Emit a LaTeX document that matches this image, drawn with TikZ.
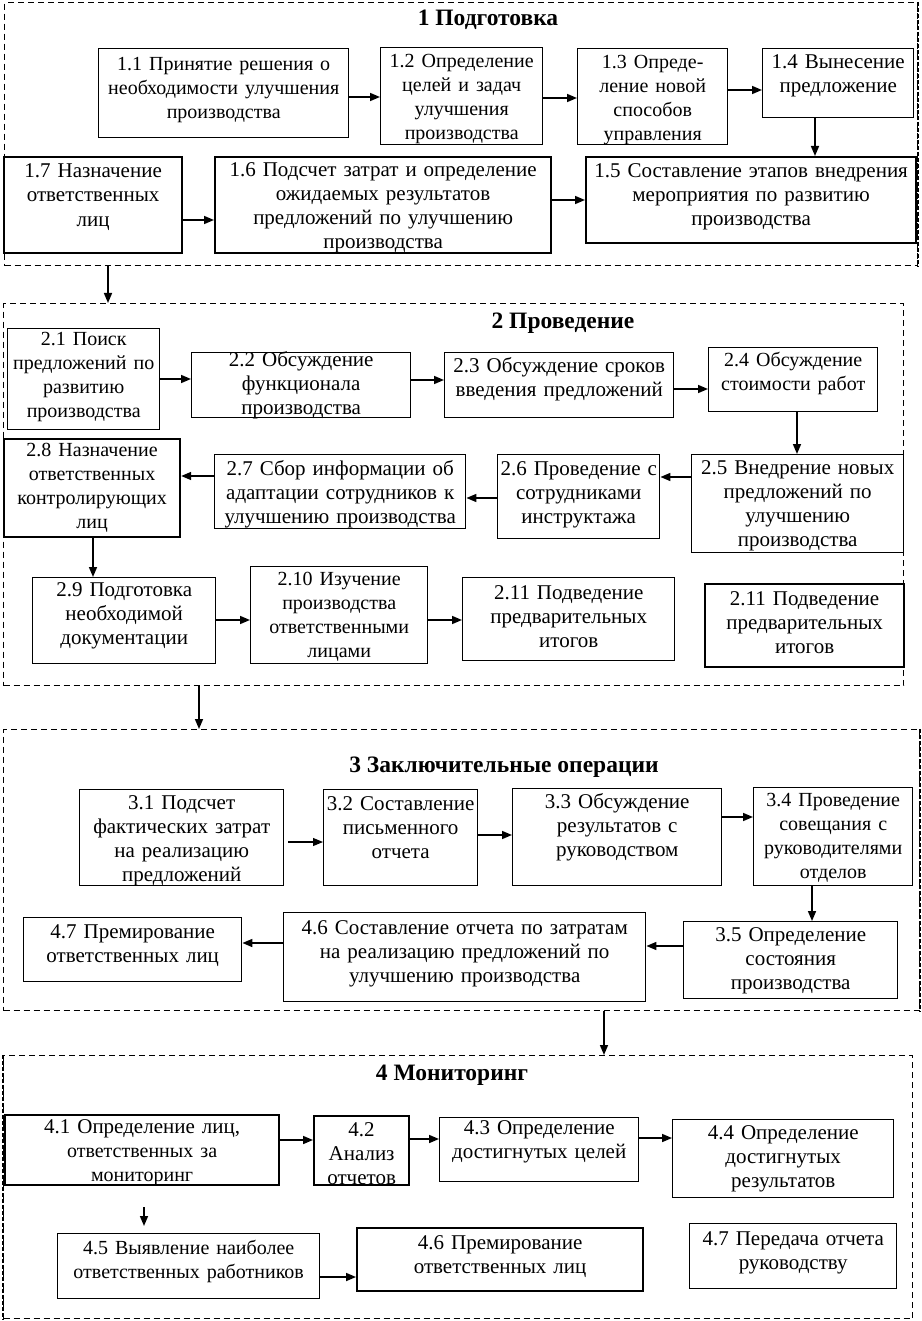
\documentclass[tikz,border=0pt]{standalone}
\usepackage{fontspec}
\setmainfont{Liberation Serif}
\usetikzlibrary{arrows.meta}
\tikzset{
  box/.style={draw, line width=1.4pt, inner sep=0pt},
  thk/.style={line width=2.2pt},
  txt/.style={align=center, inner sep=0pt, font=\fontsize{21}{24}\selectfont},
  arr/.style={line width=1.6pt, -{Triangle[length=10pt,width=8pt]}},
  thinarr/.style={line width=1.1pt, -{Triangle[length=10pt,width=8pt]}},
  frm/.style={draw, dash pattern=on 6pt off 4pt, line width=1.1pt, inner sep=0pt},
  frmthk/.style={dash pattern=on 4pt off 2pt, line width=2pt},
  ttl/.style={font=\fontsize{23.5}{28}\selectfont\bfseries, inner sep=0pt},
}
\newcommand{\sm}{\fontsize{20}{24}\selectfont}
\newcommand{\bx}[8][]{%
  \pgfmathsetmacro\bw{#5-#3}\pgfmathsetmacro\bh{#6-#4}\pgfmathsetmacro\tw{#5-#3-2}%
  \node[box,#1,minimum width=\bw pt,minimum height=\bh pt,anchor=north west] (#2) at (#3,#4) {};
  \node[txt,text width=\tw pt] (#2t) at ([yshift=#7pt]#2.center) {#8};}
\newcommand{\fr}[5]{%
  \pgfmathsetmacro\bw{#4-#2}\pgfmathsetmacro\bh{#5-#3}%
  \node[frm,minimum width=\bw pt,minimum height=\bh pt,anchor=north west] (#1) at (#2,#3) {};}
\begin{document}
\begin{tikzpicture}[x=1pt,y=-1pt]
\useasboundingbox (0,0) rectangle (921,1321);
% frames
\fr{f1}{4}{2}{917}{265}
\fr{f2}{3}{303}{903}{685}
\fr{f3}{3}{729}{919}{1010}
\fr{f4}{3}{1055}{912}{1318}
\draw[frmthk] (f1.north east) -- (f1.south east);
\draw[frmthk] (f3.north east) -- (f3.south east);
\draw[frmthk] (f4.north west) -- (f4.south west);
% titles
\node[ttl] (t1) at (488,20) {1 Подготовка};
\node[ttl] (t2) at (563,323) {2 Проведение};
\node[ttl] (t3) at (504,767) {3 Заключительные операции};
\node[ttl] (t4) at (452,1075) {4 Мониторинг};
% section 1
\bx{n11}{98}{48}{348}{137}{3}{\sm 1.1 Принятие решения о\\необходимости улучшения\\производства}
\bx{n12}{380}{47}{542}{144}{-3}{\sm 1.2 Определение\\целей и задач\\улучшения\\производства}
\bx{n13}{577}{48}{727}{144}{-3}{\sm 1.3 Опреде-\\ление новой\\способов\\управления}
\bx{n14}{762}{48}{913}{117}{7}{1.4 Вынесение\\предложение}
\bx[thk]{n15}{585}{156}{915}{242}{3}{1.5 Составление этапов внедрения\\мероприятия по развитию\\производства}
\bx[thk]{n16}{214}{156}{550}{252}{-3}{1.6 Подсчет затрат и определение\\ожидаемых результатов\\предложений по улучшению\\производства}
\bx[thk]{n17}{3}{156}{181}{252}{8}{1.7 Назначение\\ответственных\\лиц}
% section 2
\bx{n21}{7}{328}{159}{429}{2}{\sm 2.1 Поиск\\предложений по\\развитию\\производства}
\bx{n22}{191}{352}{410}{417}{0}{2.2 Обсуждение\\функционала\\производства}
\bx{n23}{444}{352}{673}{417}{6}{2.3 Обсуждение сроков\\введения предложений}
\bx{n24}{708}{347}{877}{411}{6}{\sm 2.4 Обсуждение\\стоимости работ}
\bx{n25}{691}{454}{903}{552}{-2}{2.5 Внедрение новых\\предложений по\\улучшению\\производства}
\bx{n26}{497}{454}{659}{538}{2}{2.6 Проведение с\\сотрудниками\\инструктажа}
\bx{n27}{214}{454}{465}{528}{-3}{2.7 Сбор информации об\\адаптации сотрудников к\\улучшению производства}
\bx[thk]{n28}{3}{438}{179}{536}{0}{\sm 2.8 Назначение\\ответственных\\контролирующих\\лиц}
\bx{n29}{32}{577}{215}{663}{5}{2.9 Подготовка\\необходимой\\документации}
\bx{n210}{250}{566}{427}{663}{-2}{\sm 2.10 Изучение\\производства\\ответственными\\лицами}
\bx{n211}{462}{577}{674}{660}{3}{2.11 Подведение\\предварительных\\итогов}
\bx[thk]{n211b}{704}{583}{903}{666}{3}{2.11 Подведение\\предварительных\\итогов}
% section 3
\bx{n31}{79}{789}{283}{885}{-3}{3.1 Подсчет\\фактических затрат\\на реализацию\\предложений}
\bx{n32}{323}{789}{477}{885}{10}{3.2 Составление\\письменного\\отчета}
\bx{n33}{512}{788}{721}{885}{10}{3.3 Обсуждение\\результатов с\\руководством}
\bx{n34}{753}{787}{912}{885}{-1}{\sm 3.4 Проведение\\совещания с\\руководителями\\отделов}
\bx{n35}{683}{921}{897}{998}{-1}{3.5 Определение\\состояния\\производства}
\bx{n36}{283}{912}{645}{1001}{3}{4.6 Составление отчета по затратам\\на реализацию предложений по\\улучшению производства}
\bx{n37}{23}{917}{241}{981}{4}{4.7 Премирование\\ответственных лиц}
% section 4
\bx[thk]{n41}{4}{1114}{278}{1184}{-3}{4.1 Определение лиц,\\\sm ответственных за\\мониторинг}
\bx[thk]{n42}{313}{1115}{408}{1184}{-3}{4.2\\Анализ\\отчетов}
\bx{n43}{439}{1117}{638}{1181}{8}{4.3 Определение\\достигнутых целей}
\bx{n44}{672}{1119}{893}{1197}{0}{4.4 Определение\\достигнутых\\результатов}
\bx{n45}{57}{1233}{319}{1298}{5}{\sm 4.5 Выявление наиболее\\ответственных работников}
\bx[thk]{n46}{356}{1227}{642}{1290}{3}{4.6 Премирование\\ответственных лиц}
\bx{n47}{689}{1223}{896}{1288}{3}{4.7 Передача отчета\\руководству}
% arrows section 1
\draw[arr] (n11.east |- 0,97) -- (n12.west |- 0,97);
\draw[arr] (n12.east |- 0,98) -- (n13.west |- 0,98);
\draw[arr] (n13.east |- 0,90) -- (n14.west |- 0,90);
\draw[arr] (n14.south -| 815,0) -- (n15.north -| 815,0);
\draw[arr] (n17.east |- 0,220) -- (n16.west |- 0,220);
\draw[arr] (n16.east |- 0,200) -- (n15.west |- 0,200);
% between sections
\draw[arr] (f1.south -| 108,0) -- (f2.north -| 108,0);
\draw[arr] (f2.south -| 199,0) -- (f3.north -| 199,0);
\draw[arr] (f3.south -| 604,0) -- (f4.north -| 604,0);
% arrows section 2
\draw[arr] (n21.east |- 0,379) -- (n22.west |- 0,379);
\draw[arr] (n22.east |- 0,380) -- (n23.west |- 0,380);
\draw[arr] (n23.east |- 0,389) -- (n24.west |- 0,389);
\draw[arr] (n24.south -| 797,0) -- (n25.north -| 797,0);
\draw[arr] (n25.west |- 0,477) -- (n26.east |- 0,477);
\draw[arr] (n26.west |- 0,498) -- (n27.east |- 0,498);
\draw[arr] (n27.west |- 0,476) -- (n28.east |- 0,476);
\draw[arr] (n28.south -| 93,0) -- (n29.north -| 93,0);
\draw[arr] (n29.east |- 0,620) -- (n210.west |- 0,620);
\draw[arr] (n210.east |- 0,620) -- (n211.west |- 0,620);
% arrows section 3
\draw[thinarr, shorten <=4pt] (n31.east |- 0,842) -- (n32.west |- 0,842);
\draw[arr] (n32.east |- 0,835) -- (n33.west |- 0,835);
\draw[arr] (n33.east |- 0,817) -- (n34.west |- 0,817);
\draw[arr] (n34.south -| 812,0) -- (n35.north -| 812,0);
\draw[arr] (n35.west |- 0,946) -- (n36.east |- 0,946);
\draw[arr] (n36.west |- 0,943) -- (n37.east |- 0,943);
% arrows section 4
\draw[arr] (n41.east |- 0,1140) -- (n42.west |- 0,1140);
\draw[arr] (n42.east |- 0,1139) -- (n43.west |- 0,1139);
\draw[arr] (n43.east |- 0,1138) -- (n44.west |- 0,1138);
\draw[arr, shorten <=21pt, shorten >=7pt] (n41.south -| 144,0) -- (n45.north -| 144,0);
\draw[arr] (n45.east |- 0,1277) -- (n46.west |- 0,1277);
\end{tikzpicture}
\end{document}
